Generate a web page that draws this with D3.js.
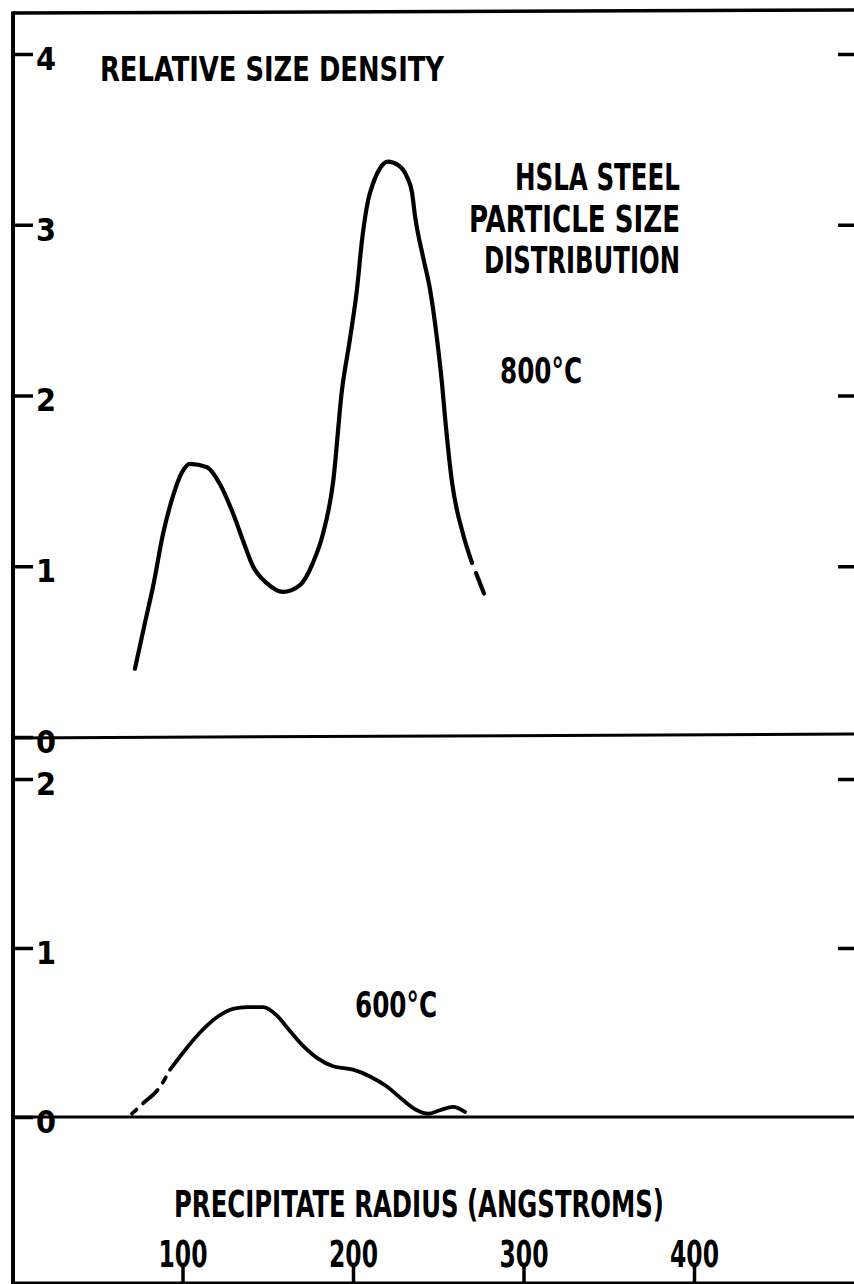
<!DOCTYPE html>
<html>
<head>
<meta charset="utf-8">
<script src="https://cdn.jsdelivr.net/npm/d3@7"></script>
<style>
  html, body { margin: 0; padding: 0; background: #fff; }
  svg { display: block; }
  text { font-family: "Liberation Sans Narrow", "DejaVu Sans Condensed", "DejaVu Sans", sans-serif; font-weight: bold; fill: #000; }
</style>
</head>
<body>
<svg id="chart" width="854" height="1284"></svg>
<script>
// ---- data ----
const radius800 = [72.1, 78.0, 82.7, 88.6, 94.4, 99.7, 104.4, 114.4, 122.0, 129.6, 135.5, 141.3, 149.6, 158.9, 168.9, 176.5, 182.4, 188.3, 193.5, 198.2, 202.3, 205.3, 208.8, 211.7, 215.8, 220.5, 226.4, 231.7, 234.6, 236.4, 241.1, 245.2, 249.3, 252.2, 254.0, 258.1, 264.5, 269.8];
const density800 = [0.40, 0.67, 0.88, 1.19, 1.41, 1.55, 1.60, 1.58, 1.48, 1.31, 1.15, 1.00, 0.90, 0.85, 0.89, 1.02, 1.19, 1.49, 2.03, 2.33, 2.62, 2.91, 3.14, 3.24, 3.33, 3.37, 3.35, 3.28, 3.19, 3.05, 2.81, 2.62, 2.33, 2.07, 1.87, 1.49, 1.19, 1.02];
const radius800Dashed = [269.8, 279.2];
const density800Dashed = [1.02, 0.78];

const radius600Dashed = [70.4, 76.8, 86.2, 92.7];
const density600Dashed = [0.02, 0.08, 0.17, 0.28];
const radius600 = [92.7, 102.6, 110.3, 120.2, 129.6, 137.8, 147.2, 155.4, 161.3, 168.9, 178.9, 188.3, 200.0, 210.0, 219.9, 229.3, 237.5, 244.0, 251.0, 258.7, 265.7];
const density600 = [0.28, 0.41, 0.50, 0.59, 0.64, 0.65, 0.65, 0.60, 0.53, 0.44, 0.35, 0.30, 0.28, 0.24, 0.18, 0.10, 0.04, 0.02, 0.04, 0.06, 0.03];

const yTicksTop = [0, 1, 2, 3, 4];
const yTicksBottom = [0, 1, 2];
const rightTicksTop = [1, 2, 3, 4];
const rightTicksBottom = [1, 2];
const xTicks = [100, 200, 300, 400];

const titleText = "RELATIVE SIZE DENSITY";
const noteLines = ["HSLA STEEL", "PARTICLE SIZE", "DISTRIBUTION"];
const label800 = "800°C";
const label600 = "600°C";
const xTitle = "PRECIPITATE RADIUS (ANGSTROMS)";

// ---- drawing ----
(function () {
const svg = d3.select("#chart");
const W = 854, H = 1284;
const frameLeft = 13, frameTop = 13, frameBottom = 1283;

const x = d3.scaleLinear().domain([0, 400]).range([12, 694]);
const yTop = d3.scaleLinear().domain([0, 4]).range([737, 54]);
const yBot = d3.scaleLinear().domain([0, 2]).range([1117, 779]);

const FS = 37;

// frame
svg.append("line").attr("x1", frameLeft).attr("x2", frameLeft).attr("y1", frameTop - 1.5).attr("y2", H)
  .attr("stroke", "#000").attr("stroke-width", 4);
svg.append("line").attr("x1", frameLeft).attr("x2", W).attr("y1", frameTop).attr("y2", frameTop - 3)
  .attr("stroke", "#000").attr("stroke-width", 3.5);
svg.append("line").attr("x1", frameLeft).attr("x2", W).attr("y1", frameBottom).attr("y2", frameBottom)
  .attr("stroke", "#000").attr("stroke-width", 3);
// zero baselines
svg.append("line").attr("x1", frameLeft).attr("x2", W).attr("y1", yTop(0) + 1).attr("y2", yTop(0) - 3)
  .attr("stroke", "#000").attr("stroke-width", 3);
svg.append("line").attr("x1", frameLeft).attr("x2", W).attr("y1", yBot(0)).attr("y2", yBot(0))
  .attr("stroke", "#000").attr("stroke-width", 3);

function styleAxis(g) {
  g.select(".domain").remove();
  g.selectAll(".tick line").attr("stroke", "#000").attr("stroke-width", 3.5);
  g.selectAll(".tick text").attr("font-size", 32).attr("fill", "#000").attr("font-weight", "bold")
    .attr("font-family", "'Liberation Sans Narrow', 'DejaVu Sans Condensed', sans-serif");
}

// left axes (ticks pointing right, labels right of tick)
svg.append("g").attr("transform", `translate(${frameLeft},0)`)
  .call(d3.axisRight(yTop).tickValues(yTicksTop).tickSize(20).tickPadding(3).tickFormat(d3.format("d")))
  .call(styleAxis)
  .call(g => g.selectAll(".tick text").attr("dy", "0.48em"));
svg.append("g").attr("transform", `translate(${frameLeft},0)`)
  .call(d3.axisRight(yBot).tickValues(yTicksBottom).tickSize(20).tickPadding(3).tickFormat(d3.format("d")))
  .call(styleAxis)
  .call(g => g.selectAll(".tick text").attr("dy", "0.48em"));

// right-hand ticks
svg.append("g").attr("transform", `translate(${W},0)`)
  .call(d3.axisLeft(yTop).tickValues(rightTicksTop).tickSize(16).tickFormat(""))
  .call(styleAxis);
svg.append("g").attr("transform", `translate(${W},0)`)
  .call(d3.axisLeft(yBot).tickValues(rightTicksBottom).tickSize(16).tickFormat(""))
  .call(styleAxis);

// bottom axis: ticks rising from the bottom border
svg.append("g").attr("transform", `translate(0,${frameBottom})`)
  .call(d3.axisTop(x).tickValues(xTicks).tickSize(20).tickPadding(-4).tickFormat(d3.format("d")))
  .call(styleAxis)
  .call(g => g.selectAll(".tick text").attr("font-size", 38).attr("dy", "0em")
    .attr("textLength", 49).attr("lengthAdjust", "spacingAndGlyphs"));

// curves
const line = (xs, ys, yScale) => d3.line()
  .x((d, i) => x(xs[i])).y((d, i) => yScale(ys[i]))
  .curve(d3.curveMonotoneX)(xs);

svg.append("path").attr("d", line(radius800, density800, yTop))
  .attr("fill", "none").attr("stroke", "#000").attr("stroke-width", 4.2)
  .attr("stroke-linecap", "round").attr("stroke-linejoin", "round");
svg.append("path").attr("d", line(radius800Dashed, density800Dashed, yTop))
  .attr("fill", "none").attr("stroke", "#000").attr("stroke-width", 4.2)
  .attr("stroke-dasharray", "0,11,22,100").attr("stroke-linecap", "round");

svg.append("path").attr("d", line(radius600Dashed, density600Dashed, yBot))
  .attr("fill", "none").attr("stroke", "#000").attr("stroke-width", 3.8)
  .attr("stroke-dasharray", "6,9,20,9,6,100").attr("stroke-linecap", "round");
svg.append("path").attr("d", line(radius600, density600, yBot))
  .attr("fill", "none").attr("stroke", "#000").attr("stroke-width", 3.8)
  .attr("stroke-linecap", "round").attr("stroke-linejoin", "round");

// texts
function txt(s, xPos, yBase, len, anchor) {
  return svg.append("text").attr("x", xPos).attr("y", yBase).attr("font-size", FS)
    .attr("text-anchor", anchor || "start")
    .attr("textLength", len).attr("lengthAdjust", "spacingAndGlyphs").text(s);
}
txt(titleText, 100, 81, 344).attr("font-size", 33);
txt(noteLines[0], 515, 190, 165);
txt(noteLines[1], 469, 232, 211);
txt(noteLines[2], 484, 273, 196);
txt(label800, 500, 383, 82).attr("font-size", 36);
txt(label600, 355, 1017, 82).attr("font-size", 36);
txt(xTitle, 174, 1217, 490);
})();
</script>
</body>
</html>
